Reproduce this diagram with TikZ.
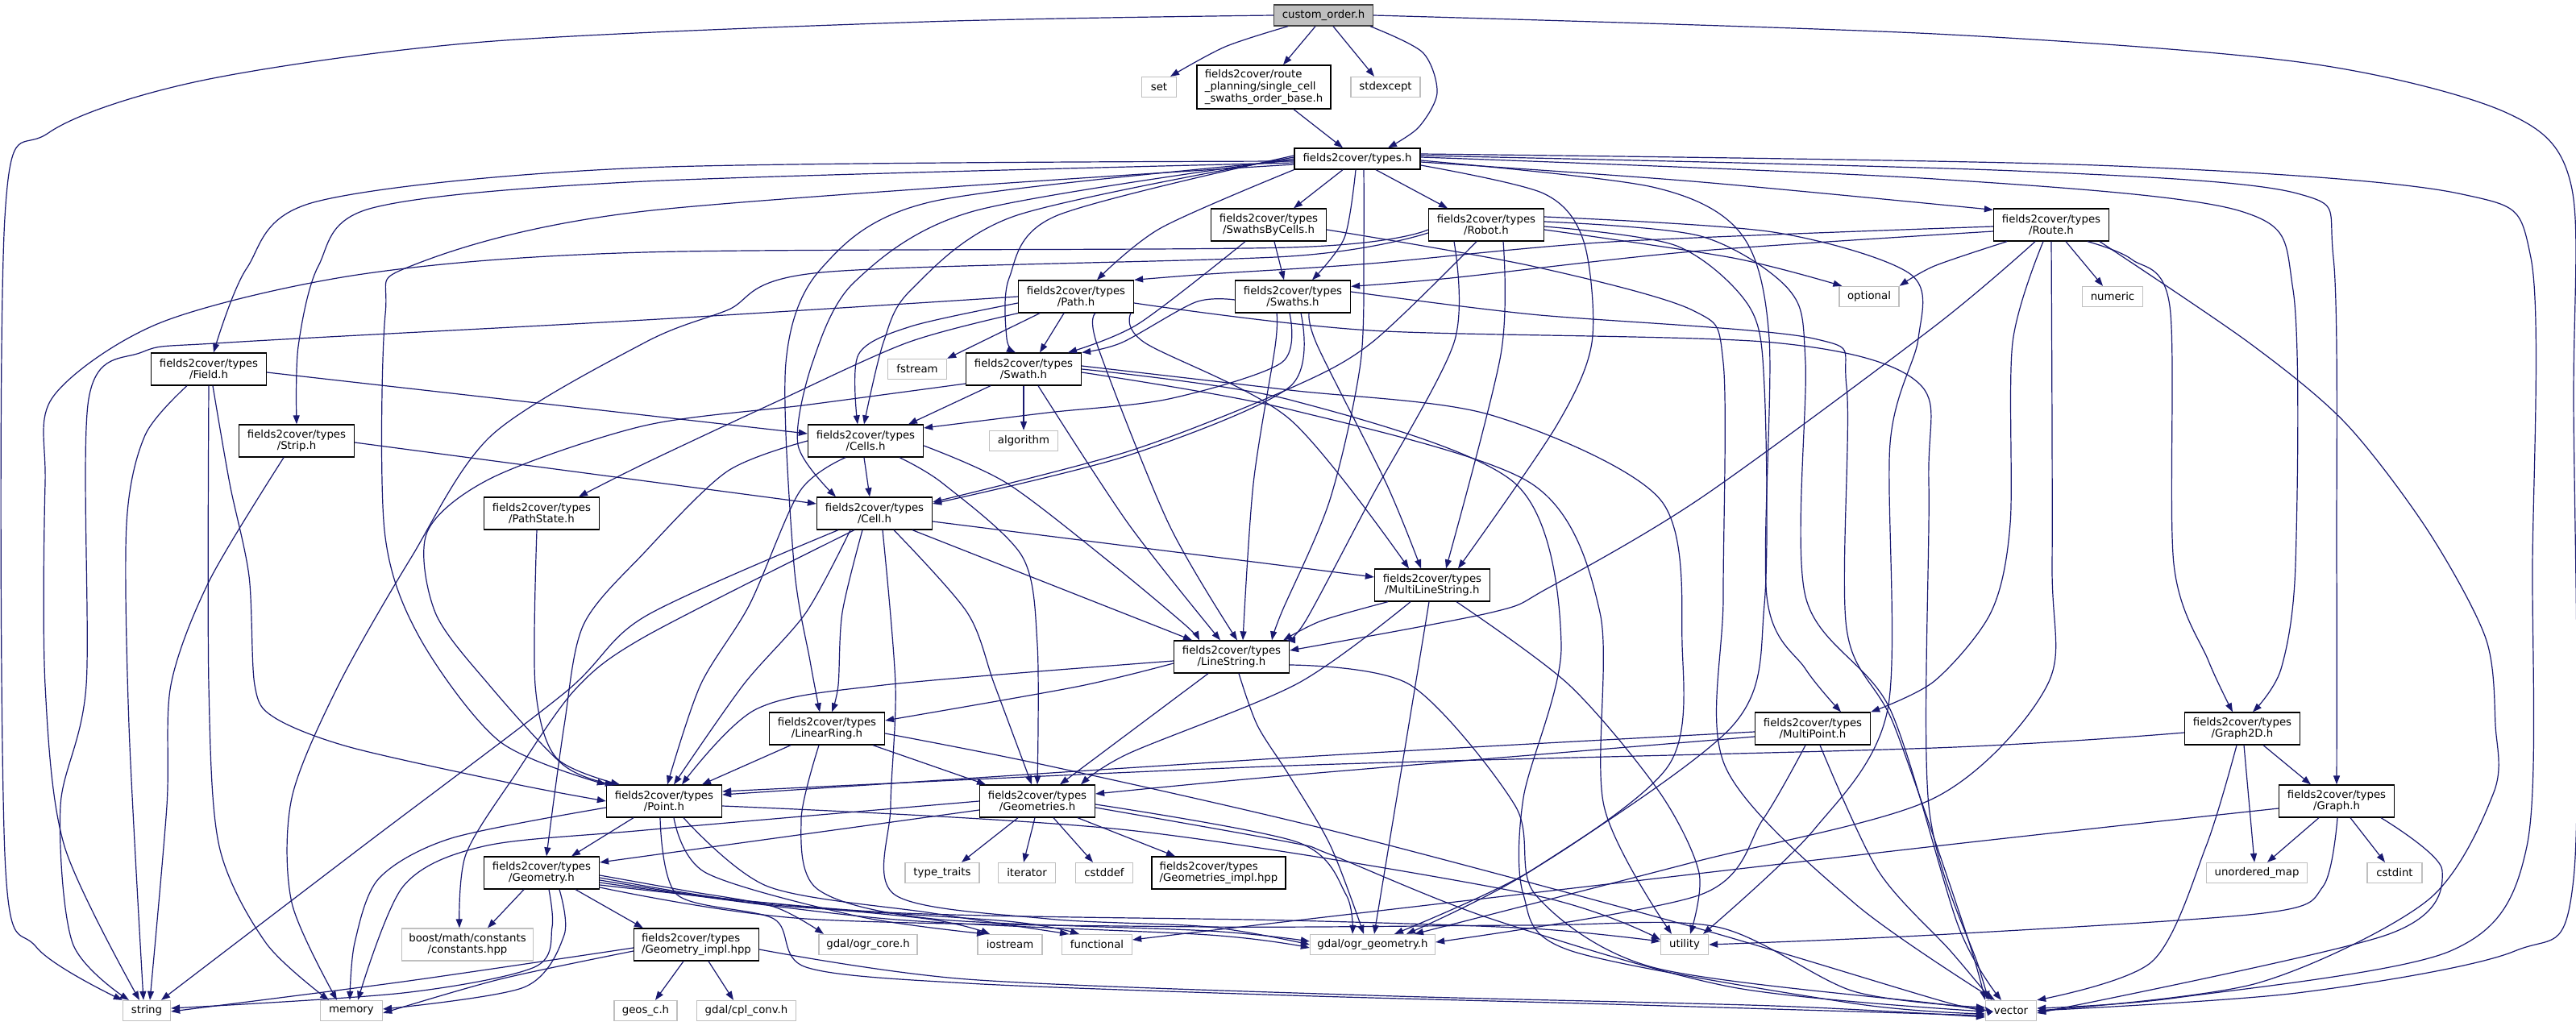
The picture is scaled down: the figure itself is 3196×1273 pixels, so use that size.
\documentclass[tikz,border=0pt]{standalone}
\usepackage{fontspec}
\setmainfont{DejaVu Sans}
\usetikzlibrary{arrows.meta}
\definecolor{navy}{HTML}{191970}
\definecolor{extgray}{HTML}{BFBFBF}
\definecolor{rootgray}{HTML}{BFBFBF}
\definecolor{rootedge}{HTML}{404040}
\newcommand\nf{\fontsize{13.3}{14.6}\selectfont}
\tikzset{
  bx/.style={rectangle, inner sep=0pt, align=center, font=\nf, minimum width=143pt, minimum height=40pt, line width=1.3pt},
  inb/.style={bx, draw=black, fill=white},
  exb/.style={bx, draw=extgray, fill=white, minimum height=25pt},
  rtb/.style={bx, draw=rootedge, fill=rootgray, minimum height=26pt},
  lnk/.style={draw=navy, line width=1.2pt, -{Triangle[length=11pt,width=8pt]}},
}
\begin{document}
\begin{tikzpicture}[x=1pt,y=-1pt]
\fill[white] (0,0) rectangle (3196,1273);
\useasboundingbox (0,0) rectangle (3196,1273);

% ---------------- nodes ----------------
\node[rtb, minimum width=123pt] (root) at (1642,19) {custom\_order.h};
\node[exb, minimum width=43pt] (set) at (1438,108) {set};
\node[inb, minimum width=166pt, minimum height=54pt, align=left] (base) at (1568,108) {fields2cover/route\\\_planning/single\_cell\\\_swaths\_order\_base.h};
\node[exb, minimum width=86pt] (stdexcept) at (1719,108) {stdexcept};
\node[inb, minimum width=156pt, minimum height=26pt] (types) at (1684,197) {fields2cover/types.h};
\node[inb] (sbc) at (1574,279) {fields2cover/types\\/SwathsByCells.h};
\node[inb] (robot) at (1844,279) {fields2cover/types\\/Robot.h};
\node[inb] (route) at (2545,279) {fields2cover/types\\/Route.h};
\node[exb, minimum width=74pt] (optional) at (2319,368) {optional};
\node[exb, minimum width=75pt] (numeric) at (2621,368) {numeric};
\node[inb] (path) at (1335,368) {fields2cover/types\\/Path.h};
\node[inb] (swaths) at (1604,368) {fields2cover/types\\/Swaths.h};
\node[inb] (field) at (259,458) {fields2cover/types\\/Field.h};
\node[inb] (strip) at (368,547) {fields2cover/types\\/Strip.h};
\node[inb] (pathstate) at (672,637) {fields2cover/types\\/PathState.h};
\node[exb, minimum width=73pt] (fstream) at (1138,458) {fstream};
\node[inb] (swath) at (1270,458) {fields2cover/types\\/Swath.h};
\node[inb] (cells) at (1074,547) {fields2cover/types\\/Cells.h};
\node[exb, minimum width=85pt] (algorithm) at (1270,547) {algorithm};
\node[inb] (cell) at (1085,637) {fields2cover/types\\/Cell.h};
\node[inb] (linestring) at (1528,815) {fields2cover/types\\/LineString.h};
\node[inb] (mls) at (1777,726) {fields2cover/types\\/MultiLineString.h};
\node[inb] (linearring) at (1026,904) {fields2cover/types\\/LinearRing.h};
\node[inb] (multipoint) at (2249,904) {fields2cover/types\\/MultiPoint.h};
\node[inb] (graph2d) at (2782,904) {fields2cover/types\\/Graph2D.h};
\node[inb] (point) at (824,994) {fields2cover/types\\/Point.h};
\node[inb] (geometries) at (1287,994) {fields2cover/types\\/Geometries.h};
\node[inb] (graph) at (2899,994) {fields2cover/types\\/Graph.h};
\node[exb, minimum width=92pt] (typetraits) at (1169,1083) {type\_traits};
\node[exb, minimum width=71pt] (iterator) at (1274,1083) {iterator};
\node[exb, minimum width=71pt] (cstddef) at (1370,1083) {cstddef};
\node[inb, minimum width=166pt, align=left] (geomsimpl) at (1512,1083) {fields2cover/types\\/Geometries\_impl.hpp};
\node[inb] (geometry) at (672,1083) {fields2cover/types\\/Geometry.h};
\node[exb, minimum width=125pt] (unordered) at (2800,1083) {unordered\_map};
\node[exb, minimum width=68pt] (cstdint) at (2971,1083) {cstdint};
\node[exb, minimum width=163pt, minimum height=40pt] (boost) at (580,1172) {boost/math/constants\\/constants.hpp};
\node[inb, minimum width=155pt, align=left] (geomimpl) at (864,1172) {fields2cover/types\\/Geometry\_impl.hpp};
\node[exb, minimum width=122pt] (ogrcore) at (1077,1172) {gdal/ogr\_core.h};
\node[exb, minimum width=80pt] (iostream) at (1253,1172) {iostream};
\node[exb, minimum width=87pt] (functional) at (1361,1172) {functional};
\node[exb, minimum width=155pt] (ogrgeom) at (1703,1172) {gdal/ogr\_geometry.h};
\node[exb, minimum width=59pt] (utility) at (2090,1172) {utility};
\node[exb, minimum width=59pt] (string) at (182,1254) {string};
\node[exb, minimum width=77pt] (memory) at (436,1254) {memory};
\node[exb, minimum width=78pt] (geosc) at (801,1254) {geos\_c.h};
\node[exb, minimum width=123pt] (cplconv) at (926,1254) {gdal/cpl\_conv.h};
\node[exb, minimum width=63pt] (vector) at (2495,1254) {vector};

% ---------------- edges ----------------
% root
\draw[lnk] plot[smooth] coordinates {(root.west) (1150,27) (600,52) (250,100) (60,165) (6,270) (6,1060) (45,1175) (string.north west)};
\draw[lnk] plot[smooth] coordinates {([xshift=-44pt]root.south) (1520,58) ([xshift=14pt]set.north)};
\draw[lnk] ([xshift=-10pt]root.south) -- ([xshift=24pt]base.north);
\draw[lnk] ([xshift=12pt]root.south) -- ([xshift=-14pt]stdexcept.north);
\draw[lnk] plot[smooth] coordinates {([xshift=58pt]root.south) (1765,65) (1783,115) (1760,158) ([xshift=38pt]types.north)};
\draw[lnk] plot[smooth] coordinates {(root.east) (2400,42) (2860,78) (3110,140) (3190,230) (3193,500) (3193,1090) (3120,1180) (2850,1232) (vector.east)};
% base
\draw[lnk] ([xshift=37pt]base.south) -- ([xshift=-18pt]types.north);
% types
\draw[lnk] ([xshift=-18pt]types.south) -- ([xshift=31pt]sbc.north);
\draw[lnk] ([xshift=23pt]types.south) -- ([xshift=-48pt]robot.north);
\draw[lnk] plot[smooth] coordinates {([xshift=-2pt]types.south) (1668,295) ([xshift=24pt]swaths.north)};
\draw[lnk] plot[smooth] coordinates {([yshift=-4pt]types.east) (2100,225) ([yshift=-2pt]route.north west)};
\draw[lnk] plot[smooth] coordinates {([yshift=-3pt]types.west) (800,208) (393,250) (306,333) ([xshift=6pt]field.north)};
\draw[lnk] plot[smooth] coordinates {([yshift=-5pt]types.west) (800,225) (462,258) (395,330) (370,430) (strip.north)};
\draw[lnk] plot[smooth] coordinates {([yshift=-7pt]types.west) (800,262) (510,330) (478,390) (477,658) (520,790) (620,920) (point.north west)};
\draw[lnk] plot[smooth] coordinates {([yshift=-2pt]types.west) (1157,250) (1019,333) (975,450) (985,700) (1005,820) ([xshift=-9pt]linearring.north)};
\draw[lnk] plot[smooth] coordinates {(types.west) (1208,262) (1060,350) (1008,450) (990,552) ([xshift=-48pt]cell.north)};
\draw[lnk] plot[smooth] coordinates {([yshift=2pt]types.west) (1259,268) (1130,360) (1096,425) ([xshift=-2pt]cells.north)};
\draw[lnk] plot[smooth] coordinates {([yshift=4pt]types.west) (1310,268) (1252,345) (1249,420) ([xshift=-10pt]swath.north)};
\draw[lnk] plot[smooth] coordinates {(types.south west) (1440,283) ([xshift=26pt]path.north)};
\draw[lnk] plot[smooth] coordinates {([xshift=8pt]types.south) (1692,300) (1688,450) (1650,620) (1590,760) ([xshift=50pt]linestring.north)};
\draw[lnk] plot[smooth] coordinates {([yshift=-8pt]types.east) (1915,240) (1965,300) (1975,425) (1930,530) ([xshift=32pt]mls.north)};
\draw[lnk] plot[smooth] coordinates {([yshift=-2pt]types.east) (2050,232) (2160,290) (2195,420) (2192,740) (2240,830) ([xshift=35pt]multipoint.north)};
\draw[lnk] plot[smooth] coordinates {([yshift=2pt]types.east) (2400,222) (2780,262) (2845,360) (2848,700) (2830,830) ([xshift=13pt]graph2d.north)};
\draw[lnk] plot[smooth] coordinates {([yshift=4pt]types.east) (2500,212) (2850,240) (2895,320) (2899,700) (graph.north)};
\draw[lnk] plot[smooth] coordinates {([yshift=6pt]types.east) (2600,205) (3050,240) (3140,320) (3142,700) (3135,1050) (3040,1180) (2700,1238) ([yshift=3pt]vector.east)};
% robot
\draw[lnk] plot[smooth] coordinates {([yshift=-6pt]robot.west) (1600,307) (800,313) (450,340) (200,400) (66,492) (56,600) (56,850) (80,1050) ([xshift=-9pt]string.north)};
\draw[lnk] plot[smooth] coordinates {([yshift=-10pt]robot.west) (1600,318) (1019,338) (902,385) (800,425) (610,540) (510,692) (420,850) (362,990) (362,1120) ([xshift=-18pt]memory.north)};
\draw[lnk] plot[smooth] coordinates {([yshift=-6pt]robot.east) (2150,320) ([xshift=4pt]optional.north west)};
\draw[lnk] plot[smooth] coordinates {([xshift=21pt]robot.south) (1862,440) ([xshift=17pt]mls.north)};
\draw[lnk] plot[smooth] coordinates {([xshift=-40pt]robot.south) (1804,425) (1700,620) (1620,770) ([xshift=-4pt]linestring.north east)};
\draw[lnk] plot[smooth] coordinates {([xshift=-12pt]robot.south) (1702,425) (1600,482) (1400,560) ([yshift=14pt]cell.east)};
\draw[lnk] plot[smooth] coordinates {([yshift=10pt]robot.east) (2200,288) (2370,340) (2380,420) (2345,550) (2342,880) (2250,1030) ([xshift=23pt]utility.north)};
\draw[lnk] plot[smooth] coordinates {([yshift=-2pt]robot.east) (2080,305) (2170,380) (2189,480) (2189,750) (2150,900) (1900,1080) ([xshift=42pt]ogrgeom.north)};
\draw[lnk] plot[smooth] coordinates {([yshift=4pt]robot.east) (2110,293) (2220,360) (2240,450) (2240,740) (2345,880) (2430,1150) ([xshift=-12pt]vector.north)};
% route
\draw[lnk] ([xshift=18pt]route.south) -- ([xshift=-12pt]numeric.north);
\draw[lnk] plot[smooth] coordinates {([xshift=-55pt]route.south) (2400,330) (optional.north east)};
\draw[lnk] plot[smooth] coordinates {([yshift=-8pt]route.west) (2100,312) (1800,345) ([yshift=-8pt]swaths.north east)};
\draw[lnk] plot[smooth] coordinates {([yshift=-2pt]route.west) (2000,300) (1700,327) (1500,340) (path.north east)};
\draw[lnk] plot[smooth] coordinates {([xshift=-20pt]route.south) (2400,405) (2110,618) (1920,730) (1850,760) ([yshift=8pt]linestring.east)};
\draw[lnk] plot[smooth] coordinates {([xshift=-10pt]route.south) (2497,425) (2494,650) (2470,760) (2400,845) (multipoint.north east)};
\draw[lnk] plot[smooth] coordinates {([xshift=45pt]route.south) (2645,322) (2692,380) (2697,700) (2740,820) ([xshift=-12pt]graph2d.north)};
\draw[lnk] plot[smooth] coordinates {([xshift=60pt]route.south) (2790,425) (2910,525) (3012,658) (3084,792) (3096,900) (3094,983) (3012,1117) (2800,1220) (vector.east)};
\draw[lnk] plot[smooth] coordinates {(route.south) (2546,700) (2540,850) (2400,990) (2100,1070) ([xshift=52pt]ogrgeom.north)};
% sbc
\draw[lnk] ([xshift=7pt]sbc.south) -- ([xshift=-11pt]swaths.north);
\draw[lnk] plot[smooth] coordinates {([xshift=-29pt]sbc.south) (1412,402) ([xshift=55pt]swath.north)};
\draw[lnk] plot[smooth] coordinates {([yshift=-6pt]sbc.east) (1900,330) (2100,385) (2138,450) (2138,740) (2140,950) (2300,1120) ([xshift=-20pt]vector.north)};
% swaths
\draw[lnk] plot[smooth] coordinates {([yshift=-4pt]swaths.west) (1483,375) (1392,425) (swath.north east)};
\draw[lnk] plot[smooth] coordinates {([xshift=-4pt]swaths.south) (1590,450) (1450,495) (1300,512) ([yshift=16pt]cells.east)};
\draw[lnk] plot[smooth] coordinates {([xshift=10pt]swaths.south) (1600,480) (1400,565) ([yshift=12pt]cell.east)};
\draw[lnk] plot[smooth] coordinates {([xshift=-20pt]swaths.south) (1582,430) (1555,600) ([xshift=14pt]linestring.north)};
\draw[lnk] plot[smooth] coordinates {([xshift=20pt]swaths.south) (1635,430) (1720,600) ([xshift=-14pt]mls.north)};
\draw[lnk] plot[smooth] coordinates {([yshift=6pt]swaths.east) (1900,390) (2250,420) (2291,480) (2291,780) (2350,900) (2440,1160) (vector.north west)};
% path
\draw[lnk] plot[smooth] coordinates {(path.west) (800,397) (283,425) (176,437) (110,495) (107,850) (75,1000) (90,1170) ([xshift=-22pt]string.north)};
\draw[lnk] plot[smooth] coordinates {(path.south west) (1126,425) (960,500) (800,575) ([xshift=46pt]pathstate.north)};
\draw[lnk] ([xshift=-45pt]path.south) -- (fstream.north east);
\draw[lnk] ([xshift=-15pt]path.south) -- ([xshift=20pt]swath.north);
\draw[lnk] plot[smooth] coordinates {([xshift=24pt]path.south) (1362,430) (1450,650) ([xshift=7pt]linestring.north)};
\draw[lnk] plot[smooth] coordinates {([xshift=68pt]path.south) (1420,425) (1600,520) ([xshift=-29pt]mls.north)};
\draw[lnk] plot[smooth] coordinates {([yshift=-8pt]path.west) (1130,405) (1065,440) ([xshift=-10pt]cells.north)};
\draw[lnk] plot[smooth] coordinates {([yshift=-8pt]path.east) (1700,410) (2200,425) (2380,475) (2393,600) (2393,1000) (2455,1200) ([xshift=-28pt]vector.north)};
% swath
\draw[lnk] ([xshift=-41pt]swath.south) -- ([xshift=53pt]cells.north);
\draw[lnk] (swath.south) -- (algorithm.north);
\draw[lnk] plot[smooth] coordinates {([xshift=18pt]swath.south) (1400,650) ([xshift=-14pt]linestring.north)};
\draw[lnk] plot[smooth] coordinates {([yshift=-18pt]swath.west) (1004,502) (800,528) (612,592) (530,660) (540,760) (607,850) (700,950) ([xshift=10pt]point.north west)};
\draw[lnk] plot[smooth] coordinates {([yshift=-4pt]swath.east) (1600,508) (1900,600) (1985,760) (1990,1000) ([xshift=-16pt]utility.north)};
\draw[lnk] plot[smooth] coordinates {([yshift=4pt]swath.east) (1600,484) (1850,515) (2060,620) (2087,800) (2070,950) (1900,1080) ([xshift=27pt]ogrgeom.north)};
\draw[lnk] plot[smooth] coordinates {(swath.east) (1600,496) (1880,600) (1937,800) (1890,990) (1890,1110) (1950,1180) (2300,1245) ([yshift=-4pt]vector.west)};
% field, strip, pathstate
\draw[lnk] plot[smooth] coordinates {([xshift=-27pt]field.south) (180,540) (157,650) (160,900) ([xshift=-4pt]string.north)};
\draw[lnk] plot[smooth] coordinates {(field.south) (259,850) (272,1050) (330,1170) ([xshift=-28pt]memory.north)};
\draw[lnk] plot[smooth] coordinates {([xshift=5pt]field.south) (285,600) (309,715) (316,850) (340,890) (434,927) (640,973) (point.west)};
\draw[lnk] ([yshift=-4pt]field.east) -- ([yshift=9pt]cells.west);
\draw[lnk] plot[smooth] coordinates {([xshift=-16pt]strip.south) (260,720) (212,850) (207,1000) ([xshift=4pt]string.north)};
\draw[lnk] ([yshift=-2pt]strip.east) -- ([yshift=12pt]cell.west);
\draw[lnk] plot[smooth] coordinates {([xshift=-6pt]pathstate.south) (664,850) (690,940) ([xshift=-55pt]point.north)};
% cells
\draw[lnk] ([xshift=-2pt]cells.south) -- ([xshift=-6pt]cell.north);
\draw[lnk] plot[smooth] coordinates {([yshift=-6pt]cells.east) (1250,600) (1380,700) (1470,775) ([xshift=-40pt]linestring.north)};
\draw[lnk] plot[smooth] coordinates {([xshift=42pt]cells.south) (1170,600) (1268,690) (1287,800) (geometries.north)};
\draw[lnk] plot[smooth] coordinates {([xshift=-25pt]cells.south) (992,610) (930,750) (869,850) ([xshift=4pt]point.north)};
\draw[lnk] plot[smooth] coordinates {(cells.west) (902,585) (800,685) (724,775) (700,900) ([xshift=6pt]geometry.north)};
% cell
\draw[lnk] ([yshift=-10pt]cell.east) -- ([yshift=10pt]mls.west);
\draw[lnk] ([xshift=47pt]cell.south) -- ([xshift=-49pt]linestring.north);
\draw[lnk] plot[smooth] coordinates {([xshift=-15pt]cell.south) (1045,760) (1040,850) ([xshift=6pt]linearring.north)};
\draw[lnk] plot[smooth] coordinates {([xshift=24pt]cell.south) (1200,760) (1234,850) ([xshift=-7pt]geometries.north)};
\draw[lnk] plot[smooth] coordinates {([xshift=-30pt]cell.south) (1000,760) (922,850) ([xshift=12pt]point.north)};
\draw[lnk] plot[smooth] coordinates {([xshift=-45pt]cell.south) (800,765) (700,860) (450,1050) ([xshift=18pt]string.north)};
\draw[lnk] plot[smooth] coordinates {([xshift=-25pt]cell.south) (800,790) (714,855) (640,960) (578,1060) ([xshift=-10pt]boost.north)};
\draw[lnk] plot[smooth] coordinates {([xshift=10pt]cell.south) (1111,850) (1105,1000) (1110,1110) (1300,1140) (1500,1150) (ogrgeom.west)};
% linearring
\draw[lnk] ([xshift=-45pt]linearring.south) -- ([xshift=47pt]point.north);
\draw[lnk] ([xshift=57pt]linearring.south) -- ([xshift=-64pt]geometries.north);
\draw[lnk] plot[smooth] coordinates {([xshift=-10pt]linearring.south) (994,1017) (1014,1103) (1157,1140) (1500,1155) ([yshift=4pt]ogrgeom.west)};
\draw[lnk] plot[smooth] coordinates {([yshift=-6pt]linearring.east) (1300,950) (1650,1030) (2100,1150) (2420,1245) ([yshift=5pt]vector.west)};
% linestring
\draw[lnk] plot[smooth] coordinates {([yshift=-5pt]linestring.west) (1096,850) (938,880) ([xshift=22pt]point.north)};
\draw[lnk] plot[smooth] coordinates {([yshift=-8pt]linestring.west) (1336,852) ([yshift=10pt]linearring.east)};
\draw[lnk] ([xshift=-29pt]linestring.south) -- ([xshift=28pt]geometries.north);
\draw[lnk] plot[smooth] coordinates {([xshift=9pt]linestring.south) (1560,900) (1600,963) (1651,1050) ([xshift=-11pt]ogrgeom.north)};
\draw[lnk] plot[smooth] coordinates {([yshift=-10pt]linestring.east) (1750,850) (1880,1000) (1905,1110) (2050,1200) (2400,1245) ([yshift=2pt]vector.west)};
% mls
\draw[lnk] plot[smooth] coordinates {([xshift=-55pt]mls.south) (1640,770) ([xshift=-8pt]linestring.north east)};
\draw[lnk] plot[smooth] coordinates {([xshift=-27pt]mls.south) (1610,848) (1400,935) ([xshift=54pt]geometries.north)};
\draw[lnk] plot[smooth] coordinates {([xshift=-4pt]mls.south) (1756,850) ([xshift=2pt]ogrgeom.north)};
\draw[lnk] plot[smooth] coordinates {([xshift=30pt]mls.south) (1947,850) (2059,983) (2108,1083) ([xshift=7pt]utility.north)};
% multipoint
\draw[lnk] plot[smooth] coordinates {([yshift=-4pt]multipoint.west) (1600,940) ([yshift=8pt]point.east)};
\draw[lnk] plot[smooth] coordinates {([yshift=-10pt]multipoint.west) (1600,962) ([yshift=9pt]geometries.east)};
\draw[lnk] plot[smooth] coordinates {([xshift=-9pt]multipoint.south) (2187,1017) (2110,1110) ([yshift=3pt]ogrgeom.east)};
\draw[lnk] plot[smooth] coordinates {([xshift=9pt]multipoint.south) (2330,1080) (2420,1180) ([xshift=-24pt]vector.north)};
% graph2d
\draw[lnk] plot[smooth] coordinates {([yshift=-5pt]graph2d.west) (2400,928) (1600,950) ([yshift=12pt]point.east)};
\draw[lnk] ([xshift=26pt]graph2d.south) -- ([xshift=-32pt]graph.north);
\draw[lnk] ([xshift=2pt]graph2d.south) -- ([xshift=-3pt]unordered.north);
\draw[lnk] plot[smooth] coordinates {([xshift=-7pt]graph2d.south) (2737,1050) (2670,1193) (vector.north east)};
% graph
\draw[lnk] ([xshift=-22pt]graph.south) -- ([xshift=13pt]unordered.north);
\draw[lnk] ([xshift=17pt]graph.south) -- ([xshift=-12pt]cstdint.north);
\draw[lnk] plot[smooth] coordinates {([xshift=1pt]graph.south) (2882,1100) (2808,1133) (2400,1160) (utility.east)};
\draw[lnk] plot[smooth] coordinates {([xshift=55pt]graph.south) (3030,1080) (2961,1160) ([yshift=-3pt]vector.east)};
\draw[lnk] plot[smooth] coordinates {([yshift=-9pt]graph.west) (2400,1050) (1600,1143) ([yshift=6pt]functional.east)};
% point
\draw[lnk] ([xshift=-38pt]point.south) -- ([xshift=37pt]geometry.north);
\draw[lnk] plot[smooth] coordinates {([yshift=-8pt]point.west) (560,1040) (470,1090) (440,1170) ([xshift=-2pt]memory.north)};
\draw[lnk] plot[smooth] coordinates {([xshift=12pt]point.south) (876,1083) (1065,1137) ([xshift=-30pt]iostream.north)};
\draw[lnk] plot[smooth] coordinates {([xshift=24pt]point.south) (953,1100) (1157,1133) ([xshift=-35pt]functional.north)};
\draw[lnk] plot[smooth] coordinates {([yshift=-6pt]point.east) (1400,1030) (1900,1110) ([yshift=6pt]utility.west)};
\draw[lnk] plot[smooth] coordinates {([xshift=-5pt]point.south) (840,1110) (960,1140) (1000,1200) (1200,1220) (1600,1235) (2000,1246) ([yshift=-6pt]vector.west)};
% geometries
\draw[lnk] ([xshift=-24pt]geometries.south) -- ([xshift=24pt]typetraits.north);
\draw[lnk] ([xshift=-3pt]geometries.south) -- ([xshift=-4pt]iterator.north);
\draw[lnk] ([xshift=20pt]geometries.south) -- ([xshift=-14pt]cstddef.north);
\draw[lnk] ([xshift=50pt]geometries.south) -- ([xshift=-54pt]geomsimpl.north);
\draw[lnk] plot[smooth] coordinates {(geometries.west) (800,1030) (600,1050) (500,1100) ([xshift=8pt]memory.north)};
\draw[lnk] ([yshift=-11pt]geometries.west) -- ([yshift=13pt]geometry.east);
\draw[lnk] plot[smooth] coordinates {([yshift=-4pt]geometries.east) (1610,1045) (1670,1110) ([xshift=-25pt]ogrgeom.north)};
\draw[lnk] plot[smooth] coordinates {([yshift=-8pt]geometries.east) (1600,1045) (1650,1060) (1850,1140) (2150,1225) ([yshift=-1pt]vector.west)};
% geometry
\draw[lnk] ([xshift=-22pt]geometry.south) -- ([xshift=25pt]boost.north);
\draw[lnk] ([xshift=42pt]geometry.south) -- ([xshift=12pt]geomimpl.north west);
\draw[lnk] plot[smooth] coordinates {([xshift=9pt]geometry.south) (685,1150) (663,1200) (500,1232) ([yshift=3pt]string.east)};
\draw[lnk] plot[smooth] coordinates {([xshift=22pt]geometry.south) (700,1160) (650,1225) ([yshift=2pt]memory.east)};
\draw[lnk] plot[smooth] coordinates {([yshift=-3pt]geometry.east) (850,1105) (960,1125) ([xshift=-55pt]ogrcore.north)};
\draw[lnk] plot[smooth] coordinates {([yshift=-6pt]geometry.east) (900,1115) (1150,1140) ([xshift=-25pt]iostream.north)};
\draw[lnk] plot[smooth] coordinates {([yshift=-9pt]geometry.east) (950,1122) (1250,1143) ([xshift=-22pt]functional.north)};
\draw[lnk] plot[smooth] coordinates {([yshift=-12pt]geometry.east) (1100,1140) (1500,1160) ([yshift=-4pt]ogrgeom.west)};
\draw[lnk] plot[smooth] coordinates {([yshift=-15pt]geometry.east) (1100,1132) (1600,1142) (1900,1152) ([yshift=4pt]utility.west)};
\draw[lnk] plot[smooth] coordinates {([yshift=-18pt]geometry.east) (1000,1140) (1500,1150) (1900,1148) (2130,1150) (2300,1230) ([yshift=4pt]vector.west)};
% geometry_impl
\draw[lnk] ([xshift=-16pt]geomimpl.south) -- ([xshift=12pt]geosc.north);
\draw[lnk] ([xshift=15pt]geomimpl.south) -- ([xshift=-16pt]cplconv.north);
\draw[lnk] plot[smooth] coordinates {([yshift=-4pt]geomimpl.west) (500,1218) ([yshift=-1pt]string.east)};
\draw[lnk] plot[smooth] coordinates {([yshift=-8pt]geomimpl.west) (620,1215) ([yshift=-3pt]memory.east)};
\draw[lnk] plot[smooth] coordinates {([yshift=-6pt]geomimpl.east) (1200,1215) (1700,1235) (2200,1248) ([yshift=-8pt]vector.west)};
\end{tikzpicture}
\end{document}
